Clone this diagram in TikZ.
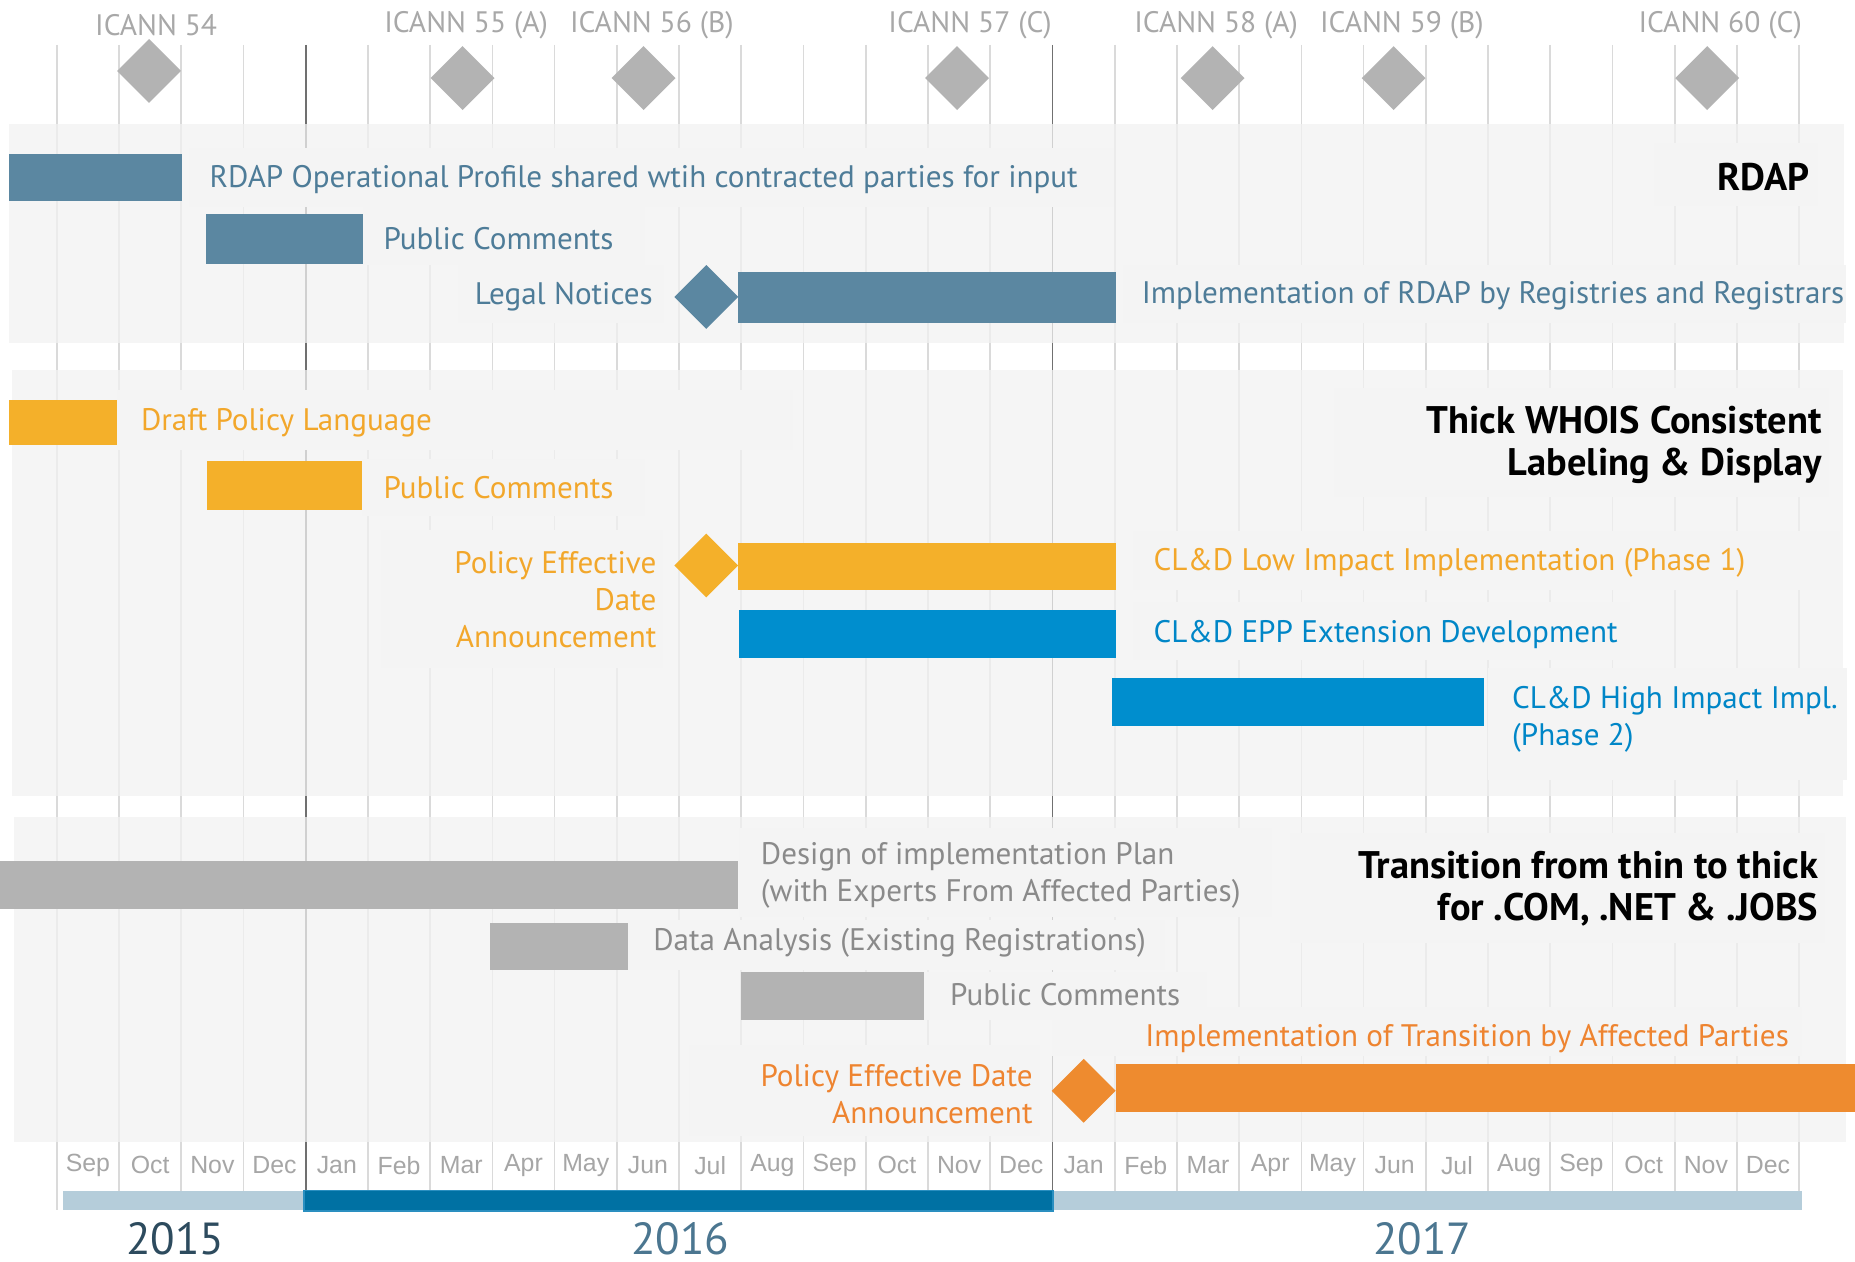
\documentclass[tikz,border=0pt]{standalone}
\usepackage{fontspec}
\setmainfont{PT Sans}
\newfontfamily\monthfont{Liberation Sans}
\definecolor{gridc}{HTML}{DADADA}
\definecolor{gridd}{HTML}{707070}
\definecolor{bandc}{HTML}{F2F2F2}
\definecolor{boxc}{HTML}{F4F4F4}
\definecolor{hdrc}{HTML}{A8A8A8}
\definecolor{dmdc}{HTML}{B3B3B3}
\definecolor{rdapbar}{HTML}{5B87A1}
\definecolor{rdaptxt}{HTML}{4E7C98}
\definecolor{ylwbar}{HTML}{F4B02A}
\definecolor{ylwtxt}{HTML}{F2A72B}
\definecolor{bluebar}{HTML}{008ECE}
\definecolor{bluetxt}{HTML}{0086C7}
\definecolor{graybar}{HTML}{B3B3B3}
\definecolor{graytxt}{HTML}{8A8A8A}
\definecolor{orgbar}{HTML}{EE8B2F}
\definecolor{orgtxt}{HTML}{EE8430}
\definecolor{monc}{HTML}{A6A6A6}
\definecolor{yrlight}{HTML}{B5CDDA}
\definecolor{yrdark}{HTML}{0071A3}
\definecolor{yrdarkedge}{HTML}{2A8FC0}
\definecolor{yrA}{HTML}{2D4B5E}
\definecolor{yrB}{HTML}{4B7690}
\newcommand\bardraw[5]{\fill[#1] (#2,#3) rectangle (#4,#5);}
\newcommand\dmddraw[3]{\fill[#1] (#2-27,#3) -- (#2,#3-27) -- (#2+27,#3) -- (#2,#3+27) -- cycle;}
\begin{document}
\begin{tikzpicture}[x=1pt,y=-1pt,
  lbl/.style={inner sep=0pt, font=\fontsize{26.3}{31}\selectfont},
  ttl/.style={inner sep=0pt, align=right, anchor=east, text=black, font=\fontsize{32.5}{36}\selectfont\bfseries},
  hdr/.style={inner sep=0pt, text=hdrc, font=\fontsize{25}{28}\selectfont},
  mon/.style={inner sep=0pt, text=monc, font=\monthfont\fontsize{21}{24}\selectfont},
  yr/.style={inner sep=0pt, font=\fontsize{38}{40}\selectfont},
  bx/.style={fill=boxc}]
\useasboundingbox (0,0) rectangle (1568,1066);
\fill[white] (0,0) rectangle (1568,1066);
% grid lines
\foreach \i in {1,2,3,5,6,7,8,9,10,11,12,13,14,15,17,18,19,20,21,22,23,24,25,26,27,28}
  \draw[gridc, line width=1.4pt] (48+52.6*\i,38) -- (48+52.6*\i,1007);
\draw[gridc, line width=1.4pt] (48,38) -- (48,1023);
\foreach \i in {4,16}
  \draw[gridd, line width=1.4pt] (48+52.6*\i,38) -- (48+52.6*\i,1007);
% bands
\fill[bandc, opacity=0.74] (8,105) rectangle (1559,290);
\fill[bandc, opacity=0.74] (10,313) rectangle (1558,672.6);
\fill[bandc, opacity=0.74] (12,691) rectangle (1560,965);
% label boxes
\fill[bx] (160,125) rectangle (942,175);
\fill[bx] (307,175) rectangle (545,224);
\fill[bx] (387,224) rectangle (561,273);
\fill[bx] (949,224) rectangle (1560,273);
\fill[bx] (1398,121) rectangle (1537,174);
\fill[bx] (99,330) rectangle (670,380);
\fill[bx] (306,388) rectangle (545,436);
\fill[bx] (322,448) rectangle (560,565);
\fill[bx] (1128,328) rectangle (1546,420);
\fill[bx] (958,449) rectangle (1555,499);
\fill[bx] (958,509) rectangle (1378,558);
\fill[bx] (1258,565) rectangle (1561,659);
\fill[bx] (625,700) rectangle (1075,775);
\fill[bx] (531,778) rectangle (985,820);
\fill[bx] (781,822) rectangle (1020,862);
\fill[bx] (1090,704) rectangle (1543,797);
\fill[bx] (889,851) rectangle (1523,893);
\fill[bx] (582,883) rectangle (879,960);
% header
\node[hdr] (h54) at (132,21) {ICANN 54};
\node[hdr] (h55) at (394,21) {ICANN 55 (A)};
\node[hdr] (h56) at (551,21) {ICANN 56 (B)};
\node[hdr] (h57) at (820,21) {ICANN 57 (C)};
\node[hdr] (h58) at (1028,21) {ICANN 58 (A)};
\node[hdr] (h59) at (1185,21) {ICANN 59 (B)};
\node[hdr] (h60) at (1454,21) {ICANN 60 (C)};
\dmddraw{dmdc}{126}{60}
\dmddraw{dmdc}{391}{66}
\dmddraw{dmdc}{544}{66}
\dmddraw{dmdc}{809}{66}
\dmddraw{dmdc}{1025}{66}
\dmddraw{dmdc}{1178}{66}
\dmddraw{dmdc}{1443}{66}
% RDAP
\bardraw{rdapbar}{8}{130}{154}{170}
\bardraw{rdapbar}{174}{181}{307}{223}
\dmddraw{rdapbar}{597}{251}
\bardraw{rdapbar}{624}{230}{943}{273}
\node[lbl, text=rdaptxt, anchor=west] (r1) at (177,152) {RDAP Operational Profile shared wtih contracted parties for input};
\node[lbl, text=rdaptxt, anchor=west] (r2) at (324,202) {Public Comments};
\node[lbl, text=rdaptxt, anchor=east] (r3) at (552,251) {Legal Notices};
\node[lbl, text=rdaptxt, anchor=west] (r4) at (965,250) {Implementation of RDAP by Registries and Registrars};
\node[ttl] (t1) at (1530,150) {RDAP};
% WHOIS
\bardraw{ylwbar}{8}{338}{99}{376}
\bardraw{ylwbar}{175}{390}{306}{431}
\dmddraw{ylwbar}{597}{478}
\bardraw{ylwbar}{624}{459}{943}{499}
\bardraw{bluebar}{625}{516}{943}{556}
\bardraw{bluebar}{940}{573}{1254}{614}
\node[lbl, text=ylwtxt, anchor=west] (w1) at (119,357) {Draft Policy Language};
\node[lbl, text=ylwtxt, anchor=west] (w2) at (324,412) {Public Comments};
\node[lbl, text=ylwtxt, anchor=east, align=right] (w3) at (555,507) {Policy Effective\\Date\\Announcement};
\node[lbl, text=ylwtxt, anchor=west] (w4) at (975,476) {CL\&D Low Impact Implementation (Phase 1)};
\node[lbl, text=bluetxt, anchor=west] (w5) at (975,536) {CL\&D EPP Extension Development};
\node[lbl, text=bluetxt, anchor=west, align=left] (w6) at (1278,608) {CL\&D High Impact Impl.\\(Phase 2)};
\node[ttl] (t2) at (1540,376) {Thick WHOIS Consistent\\Labeling \& Display};
% Transition
\bardraw{graybar}{0}{728}{624}{768}
\bardraw{graybar}{414}{780}{531}{820}
\bardraw{graybar}{626}{822}{781}{862}
\dmddraw{orgbar}{916}{922}
\bardraw{orgbar}{943}{899}{1568}{940}
\node[lbl, text=graytxt, anchor=west, align=left] (x1) at (643,740) {Design of implementation Plan\\(with Experts From Affected Parties)};
\node[lbl, text=graytxt, anchor=west] (x2) at (552,797) {Data Analysis (Existing Registrations)};
\node[lbl, text=graytxt, anchor=west] (x3) at (803,841) {Public Comments};
\node[lbl, text=orgtxt, anchor=east, align=right] (x4) at (873,925) {Policy Effective Date\\Announcement};
\node[lbl, text=orgtxt, anchor=west] (x5) at (968,878) {Implementation of Transition by Affected Parties};
\node[ttl] (t3) at (1537,751) {Transition from thin to thick\\for .COM, .NET \& .JOBS};
% months
\foreach \m [count=\k from 0] in {Sep,Oct,Nov,Dec,Jan,Feb,Mar,Apr,May,Jun,Jul,Aug,Sep,Oct,Nov,Dec,Jan,Feb,Mar,Apr,May,Jun,Jul,Aug,Sep,Oct,Nov,Dec}
  \node[mon] (m\k) at (48+52.6*\k+26.3,985) {\m};
% year bar
\fill[yrlight] (53,1007) rectangle (258,1023);
\fill[yrlight] (891,1007) rectangle (1523,1023);
\fill[yrdarkedge] (256,1005.5) rectangle (891,1024.5);
\fill[yrdark] (257.5,1007) rectangle (889.5,1023);
\node[yr, text=yrA] (y1) at (148,1047) {2015};
\node[yr, text=yrB] (y2) at (575,1047) {2016};
\node[yr, text=yrB] (y3) at (1202,1047) {2017};
\end{tikzpicture}
\end{document}
